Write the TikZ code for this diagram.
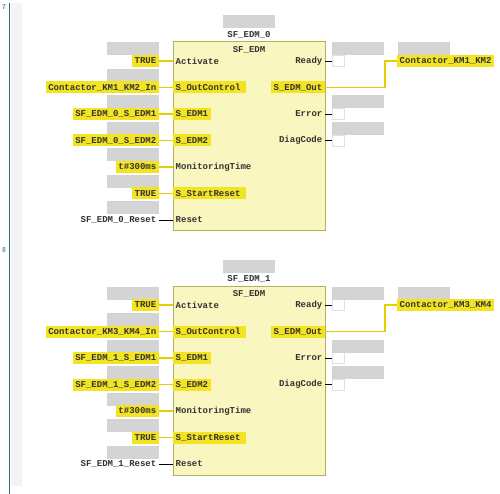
\documentclass[tikz,border=0pt]{standalone}
\usepackage{fontspec}
\setmonofont{Liberation Mono}
\definecolor{hly}{HTML}{F2E422}
\definecolor{wire}{HTML}{E6CF00}
\definecolor{fbfill}{HTML}{FAF6BF}
\definecolor{fbdraw}{HTML}{B5AF60}
\definecolor{gbar}{HTML}{D4D4D4}
\definecolor{tealline}{HTML}{2A7078}
\definecolor{band}{HTML}{F4F4F4}
\definecolor{txt}{HTML}{333333}
\definecolor{numc}{HTML}{5A8EA8}
\tikzset{
 lbl/.style={font=\ttfamily\bfseries\fontsize{9}{9}\selectfont, text=txt, inner xsep=2.5pt, inner ysep=0pt, minimum height=12pt},
 hl/.style={lbl, fill=hly},
 gbox/.style={fill=gbar, draw=none, minimum width=52pt, minimum height=13pt, inner sep=0pt},
 obox/.style={draw=black!12, fill=white, minimum width=12pt, minimum height=11pt, inner sep=0pt},
 fb/.style={draw=fbdraw, fill=fbfill, line width=1pt, minimum width=152pt, minimum height=189pt, inner sep=0pt},
 ywire/.style={draw=wire, line width=1.2pt},
 kwire/.style={draw=black, line width=0.8pt},
 numlbl/.style={font=\sffamily\bfseries\fontsize{7}{7}\selectfont, text=numc, inner sep=0pt},
}
\newcommand\edmblock[3]{%
\begin{scope}[yshift=-#1pt]
 \node[gbox] (t#2) at (249,22) {};
 \node[lbl] (n#2) at (249,35) {SF\_EDM\_#2};
 \node[fb] (fb#2) at (249,136.5) {};
 \node[lbl] (ty#2) at (249,50) {SF\_EDM};
 % left gray placeholders
 \node[gbox] (g1#2) at (133,49) {};
 \node[gbox] (g2#2) at (133,75.5) {};
 \node[gbox] (g3#2) at (133,102) {};
 \node[gbox] (g4#2) at (133,128.5) {};
 \node[gbox] (g5#2) at (133,155) {};
 \node[gbox] (g6#2) at (133,181.5) {};
 \node[gbox] (g7#2) at (133,208) {};
 % inputs
 \node[hl, anchor=east] (va#2) at (159,61) {TRUE};
 \node[lbl, anchor=west] (pa#2) at (173,61) {Activate};
 \draw[ywire] (va#2) -- (pa#2);
 \node[hl, anchor=east] (vb#2) at (159,87.5) {Contactor\_#3\_In};
 \node[hl, anchor=west, minimum width=73pt, align=left, text width=68pt] (pb#2) at (173,87.5) {S\_OutControl};
 \draw[ywire] (vb#2) -- (pb#2);
 \node[hl, anchor=east] (vc#2) at (159,114) {SF\_EDM\_#2\_S\_EDM1};
 \node[hl, anchor=west] (pc#2) at (173,114) {S\_EDM1};
 \draw[ywire] (vc#2) -- (pc#2);
 \node[hl, anchor=east] (vd#2) at (159,140.5) {SF\_EDM\_#2\_S\_EDM2};
 \node[hl, anchor=west] (pd#2) at (173,140.5) {S\_EDM2};
 \draw[ywire] (vd#2) -- (pd#2);
 \node[hl, anchor=east] (ve#2) at (159,167) {t\#300ms};
 \node[lbl, anchor=west] (pe#2) at (173,167) {MonitoringTime};
 \draw[ywire] (ve#2) -- (pe#2);
 \node[hl, anchor=east] (vf#2) at (159,193.5) {TRUE};
 \node[hl, anchor=west, minimum width=73pt, align=left, text width=68pt] (pf#2) at (173,193.5) {S\_StartReset};
 \draw[ywire] (vf#2) -- (pf#2);
 \node[lbl, anchor=east] (vg#2) at (159,220) {SF\_EDM\_#2\_Reset};
 \node[lbl, anchor=west] (pg#2) at (173,220) {Reset};
 \draw[kwire] (vg#2) -- (pg#2);
 % outputs
 \node[lbl, anchor=east] (qa#2) at (325,61) {Ready};
 \node[obox, anchor=west] (oa#2) at (332,61) {};
 \node[gbox] (ga#2) at (358,49) {};
 \draw[kwire] (qa#2.east) -- (oa#2.west);
 \node[hl, anchor=east] (qb#2) at (325,87.5) {S\_EDM\_Out};
 \node[gbox] (gb#2) at (423.5,49) {};
 \node[hl, anchor=west] (ob#2) at (397,61) {Contactor\_#3};
 \coordinate (bend#2) at (385,87.5);
 \draw[ywire] (qb#2.east) -- (bend#2) |- (ob#2.west);
 \node[lbl, anchor=east] (qc#2) at (325,114) {Error};
 \node[obox, anchor=west] (oc#2) at (332,114) {};
 \node[gbox] (gc#2) at (358,102) {};
 \draw[kwire] (qc#2.east) -- (oc#2.west);
 \node[lbl, anchor=east] (qd#2) at (325,140.5) {DiagCode};
 \node[obox, anchor=west] (od#2) at (332,140.5) {};
 \node[gbox] (gd#2) at (358,128.5) {};
 \draw[kwire] (qd#2.east) -- (od#2.west);
\end{scope}}
\begin{document}
\begin{tikzpicture}[x=1pt,y=-1pt]
 \useasboundingbox[fill=white] (0,0) rectangle (500,494);
 \fill[band] (10.5,3) rectangle (22,486);
 \draw[tealline, line width=1.6pt] (9.5,3) -- (9.5,494);
 \node[numlbl] (r7) at (4,7) {7};
 \node[numlbl] (r8) at (4,250) {8};
 \edmblock{0}{0}{KM1\_KM2}
 \edmblock{244}{1}{KM3\_KM4}
\end{tikzpicture}
\end{document}
